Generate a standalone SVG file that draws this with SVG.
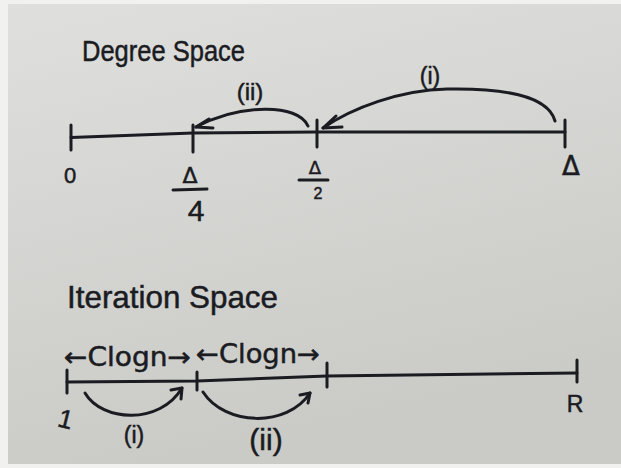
<svg xmlns="http://www.w3.org/2000/svg" width="621" height="468" viewBox="0 0 621 468">
<defs>
<linearGradient id="paper" x1="0" y1="0" x2="0.3" y2="1">
<stop offset="0" stop-color="#dfe0dd"/>
<stop offset="1" stop-color="#cacbc7"/>
</linearGradient>
<style>
.ink{fill:none;stroke:#1b1b22;stroke-width:3;stroke-linecap:round;stroke-linejoin:round}
.t{fill:#1b1b22;stroke:#1b1b22;stroke-width:0.5;font-family:"Liberation Sans","DejaVu Sans",sans-serif}
.d{font-family:"DejaVu Sans","Liberation Sans",sans-serif}
.m{text-anchor:middle}
</style>
</defs>
<rect width="621" height="468" fill="#f1f1ef"/>
<rect x="8" y="4" width="613" height="460" fill="url(#paper)"/>

<g id="degree-title"><text class="t" x="82" y="61" font-size="30" textLength="163" lengthAdjust="spacingAndGlyphs">Degree Space</text></g>

<g id="degree-axis">
<path class="ink" d="M71,137.5 L193,133 L317,132 L565,132"/>
<path class="ink" d="M71,125 V150 M193,125 V152 M317,120 V147 M565,120 V147"/>
</g>
<g id="label-0"><text class="t m" x="70" y="183" font-size="22">0</text></g>
<g id="label-d4">
<text class="t d m" x="190" y="183" font-size="22">Δ</text>
<path class="ink" d="M173,190 L207,189"/>
<text class="t m" x="196" y="221" font-size="30">4</text>
</g>
<g id="label-d2">
<text class="t d m" x="315" y="174" font-size="18">Δ</text>
<path class="ink" d="M299,180 L328,180"/>
<text class="t m" x="318" y="199" font-size="16">2</text>
</g>
<g id="label-d"><text class="t d m" x="571" y="175" font-size="26">Δ</text></g>

<g id="degree-connectors">
<path class="ink" d="M308,126 C298,103 240,104 196,127"/>
<path class="ink" d="M209,119 L196,127 L213,128"/>
<path class="ink" d="M555,121 C548,95 500,88 447,89 C400,90 352,108 323,128"/>
<path class="ink" d="M336,116 L323,128 L342,127"/>
</g>
<g id="label-deg-ii"><text class="t m" x="250" y="100" font-size="24">(ii)</text></g>
<g id="label-deg-i"><text class="t m" x="430" y="84" font-size="23">(i)</text></g>

<g id="iter-title"><text class="t" x="67" y="308" font-size="32" textLength="211" lengthAdjust="spacingAndGlyphs">Iteration Space</text></g>

<g id="iter-axis">
<path class="ink" d="M67,382 L197,381 L327,376 L577,373"/>
<path class="ink" d="M67,370 V393 M197,372 V390 M327,363 V387 M577,360 V382"/>
</g>
<g id="clogn-1"><text class="t d" x="64" y="366" font-size="26" textLength="127" lengthAdjust="spacingAndGlyphs">←Clogn→</text></g>
<g id="clogn-2"><text class="t d" x="196" y="363" font-size="26" textLength="124" lengthAdjust="spacingAndGlyphs">←Clogn→</text></g>
<g id="label-1"><text class="t m" x="66" y="428" font-size="26" transform="rotate(14 66 418)">1</text></g>
<g id="label-R"><text class="t m" x="575" y="412" font-size="23">R</text></g>

<g id="iter-connectors">
<path class="ink" d="M85,393 C102,422 160,425 182,388"/>
<path class="ink" d="M171,390 L182,388 L181,399"/>
<path class="ink" d="M203,392 C225,426 287,428 310,393"/>
<path class="ink" d="M300,395 L310,393 L308,403"/>
</g>
<g id="label-it-i"><text class="t m" x="134" y="443" font-size="23">(i)</text></g>
<g id="label-it-ii"><text class="t m" x="266" y="450" font-size="30">(ii)</text></g>
</svg>
